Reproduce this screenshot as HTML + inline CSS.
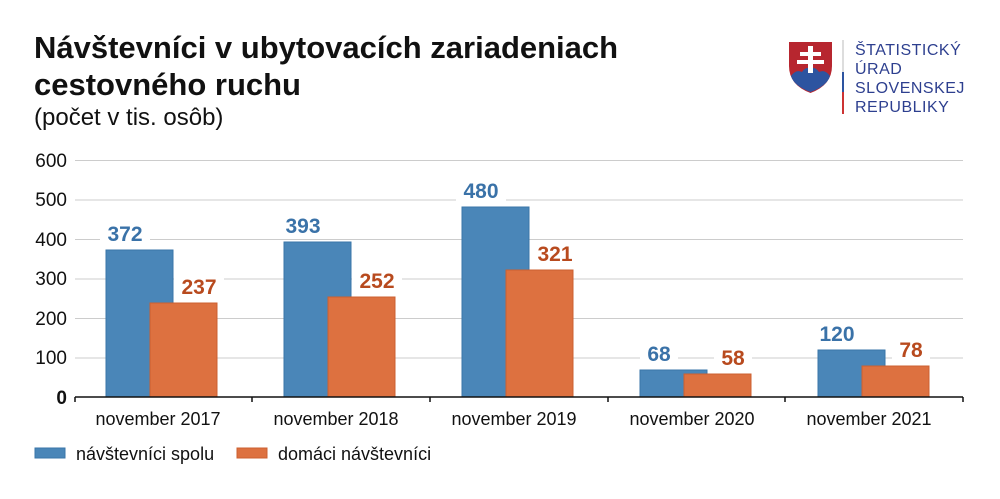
<!DOCTYPE html>
<html><head><meta charset="utf-8"><style>body{margin:0;background:#fff}svg{display:block}</style></head><body>
<svg width="1000" height="499" xmlns="http://www.w3.org/2000/svg" font-family="Liberation Sans, Arial, sans-serif">
<rect width="1000" height="499" fill="#fff"/>
<text x="34" y="58" font-size="31" font-weight="bold" fill="#111">Návštevníci v ubytovacích zariadeniach</text>
<text x="34" y="95" font-size="31" font-weight="bold" fill="#111">cestovného ruchu</text>
<text x="34" y="125" font-size="24" fill="#111">(počet v tis. osôb)</text>
<!-- logo -->
<path d="M789 42 H832 V66 Q832 85 810.5 93 Q789 85 789 66 Z" fill="#b7262f"/>
<path d="M791 76 Q796 69 802 72 Q806 66 810.5 69 Q815 66 819 72 Q825 69 830 76 Q827 86 810.5 92 Q794 86 791 76 Z" fill="#2d54a0"/>
<rect x="808" y="46" width="5" height="27" fill="#fff"/>
<rect x="800" y="52" width="21" height="4" fill="#fff"/>
<rect x="797" y="60" width="27" height="4" fill="#fff"/>
<rect x="842" y="40" width="2" height="32" fill="#ddd"/>
<rect x="842" y="72" width="2" height="20" fill="#2d54a0"/>
<rect x="842" y="92" width="2" height="22" fill="#c33"/>
<g font-size="16" fill="#2d3f8f" letter-spacing="0.5">
<text x="855" y="55">ŠTATISTICKÝ</text><text x="855" y="74">ÚRAD</text><text x="855" y="93">SLOVENSKEJ</text><text x="855" y="112">REPUBLIKY</text></g>
<!-- grid -->
<g stroke="#ccc" stroke-width="1">
<line x1="75" x2="963" y1="160.5" y2="160.5"/><line x1="75" x2="963" y1="200" y2="200"/><line x1="75" x2="963" y1="239.5" y2="239.5"/><line x1="75" x2="963" y1="279" y2="279"/><line x1="75" x2="963" y1="318.5" y2="318.5"/><line x1="75" x2="963" y1="358" y2="358"/></g>
<g font-size="19" fill="#111" text-anchor="end">
<text x="67" y="167">600</text><text x="67" y="206">500</text><text x="67" y="246">400</text><text x="67" y="285">300</text><text x="67" y="325">200</text><text x="67" y="364">100</text><text x="67" y="404" font-weight="bold">0</text></g>
<!-- bars -->
<g>
<rect x="106" y="250" width="67" height="147" fill="#4a86b8" stroke="#3a76a8"/>
<rect x="150" y="303" width="67" height="94" fill="#dd7140" stroke="#cc6030"/>
<rect x="284" y="242" width="67" height="155" fill="#4a86b8" stroke="#3a76a8"/>
<rect x="328" y="297" width="67" height="100" fill="#dd7140" stroke="#cc6030"/>
<rect x="462" y="207" width="67" height="190" fill="#4a86b8" stroke="#3a76a8"/>
<rect x="506" y="270" width="67" height="127" fill="#dd7140" stroke="#cc6030"/>
<rect x="640" y="370" width="67" height="27" fill="#4a86b8" stroke="#3a76a8"/>
<rect x="684" y="374" width="67" height="23" fill="#dd7140" stroke="#cc6030"/>
<rect x="818" y="350" width="67" height="47" fill="#4a86b8" stroke="#3a76a8"/>
<rect x="862" y="366" width="67" height="31" fill="#dd7140" stroke="#cc6030"/>
</g>
<g fill="#fff">
<rect x="100" y="222" width="50" height="24"/><rect x="174" y="275" width="50" height="24"/>
<rect x="278" y="214" width="50" height="24"/><rect x="352" y="269" width="50" height="24"/>
<rect x="456" y="179" width="50" height="24"/><rect x="530" y="242" width="50" height="24"/>
<rect x="640" y="342" width="38" height="24"/><rect x="714" y="346" width="38" height="24"/>
<rect x="812" y="322" width="50" height="24"/><rect x="892" y="338" width="38" height="24"/>
</g>
<g font-size="21" font-weight="bold" text-anchor="middle">
<g fill="#3a72a8"><text x="125" y="241">372</text><text x="303" y="233">393</text><text x="481" y="198">480</text><text x="659" y="361">68</text><text x="837" y="341">120</text></g>
<g fill="#b84a1e"><text x="199" y="294">237</text><text x="377" y="288">252</text><text x="555" y="261">321</text><text x="733" y="365">58</text><text x="911" y="357">78</text></g></g>
<line x1="75" x2="963" y1="397" y2="397" stroke="#111" stroke-width="1.5"/>
<g stroke="#111" stroke-width="1.5"><line x1="75" x2="75" y1="397" y2="402"/><line x1="252" x2="252" y1="397" y2="402"/><line x1="430" x2="430" y1="397" y2="402"/><line x1="608" x2="608" y1="397" y2="402"/><line x1="785" x2="785" y1="397" y2="402"/><line x1="963" x2="963" y1="397" y2="402"/></g>
<g font-size="18" fill="#111" text-anchor="middle">
<text x="158" y="425">november 2017</text><text x="336" y="425">november 2018</text><text x="514" y="425">november 2019</text><text x="692" y="425">november 2020</text><text x="869" y="425">november 2021</text></g>
<rect x="35" y="448" width="30" height="10" fill="#4a86b8" stroke="#3a76a8"/>
<text x="76" y="460" font-size="18" fill="#111">návštevníci spolu</text>
<rect x="237" y="448" width="30" height="10" fill="#dd7140" stroke="#cc6030"/>
<text x="278" y="460" font-size="18" fill="#111">domáci návštevníci</text>
</svg>
</body></html>
